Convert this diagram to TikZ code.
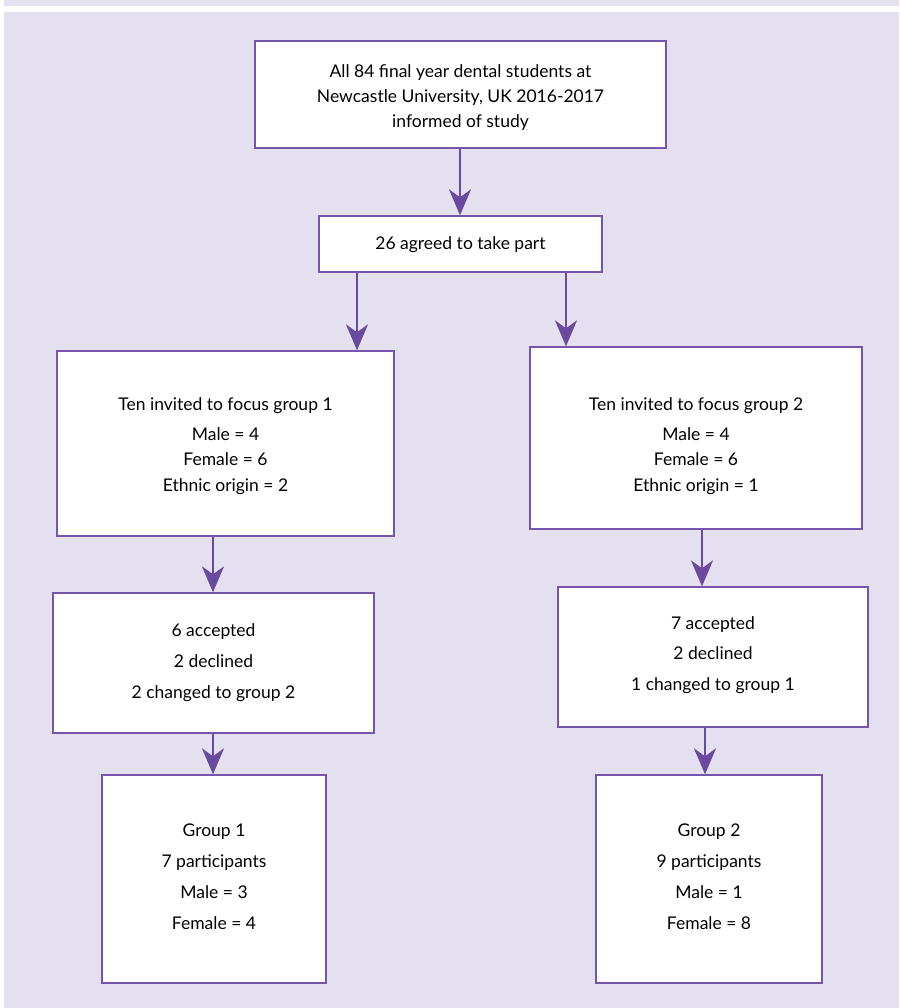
\documentclass[tikz,border=0pt]{standalone}
\usepackage{fontspec}
\setmainfont{Lato}
\usetikzlibrary{arrows.meta}
\definecolor{lav}{HTML}{E4E0F0}
\definecolor{pborder}{HTML}{7556AC}
\definecolor{parrow}{HTML}{6A4A9E}
\begin{document}
\begin{tikzpicture}[x=1pt,y=-1pt,
  box/.style={draw=pborder,fill=white,line width=1.3pt,rectangle,inner sep=0pt},
  txt/.style={inner sep=0pt,align=center,font=\fontsize{17.5}{25.5}\selectfont},
  arr/.style={draw=parrow,line width=2.8pt,-{Stealth[length=26pt,width=22pt,inset=8pt]}}]
\useasboundingbox (0,0) rectangle (899,1008);
\fill[white] (0,0) rectangle (899,1008);
\fill[lav] (4,0) rectangle (899,1008);
\fill[white] (4,6) rectangle (899,12);
\node[box,minimum width=411pt,minimum height=107pt] (top) at (460.5,94.5) {};
\node[txt,font=\fontsize{17.5}{25}\selectfont] (topt) at ([yshift=-3pt]top.center)
  {All 84 final year dental students at\\Newcastle University, UK 2016-2017\\informed of study};
\node[box,minimum width=283pt,minimum height=56pt] (agree) at (460.5,244) {};
\node[txt] (agreet) at ([yshift=-1pt]agree.center) {26 agreed to take part};
\node[box,minimum width=337pt,minimum height=185pt] (l1) at (225.5,443.5) {};
\node[txt] (l1t) at ([yshift=-2.5pt]l1.center)
  {Ten invited to focus group 1\\[4.5pt]Male = 4\\Female = 6\\Ethnic origin = 2};
\node[box,minimum width=332pt,minimum height=182pt] (r1) at (696,438) {};
\node[txt] (r1t) at ([yshift=-8pt]r1.center)
  {Ten invited to focus group 2\\[4.5pt]Male = 4\\Female = 6\\Ethnic origin = 1};
\node[box,minimum width=321pt,minimum height=140pt] (l2) at (213.5,663) {};
\node[txt] (l2t) at (l2.center)
  {6 accepted\\[5.5pt]2 declined\\[5.5pt]2 changed to group 2};
\node[box,minimum width=310pt,minimum height=140pt] (r2) at (713,657) {};
\node[txt] (r2t) at ([yshift=2pt]r2.center)
  {7 accepted\\[4.5pt]2 declined\\[6pt]1 changed to group 1};
\node[box,minimum width=224pt,minimum height=208pt] (l3) at (214,879) {};
\node[txt] (l3t) at ([yshift=2pt]l3.center)
  {Group 1\\[5.5pt]7 participants\\[5.5pt]Male = 3\\[5.5pt]Female = 4};
\node[box,minimum width=226pt,minimum height=208pt] (r3) at (709,879) {};
\node[txt] (r3t) at ([yshift=2pt]r3.center)
  {Group 2\\[5.5pt]9 participants\\[5.5pt]Male = 1\\[5.5pt]Female = 8};
\draw[arr] (top.south -| 460,0) -- (agree.north -| 460,0);
\draw[arr] (agree.south -| 357,0) -- (l1.north -| 357,0);
\draw[arr] (agree.south -| 566,0) -- (r1.north -| 566,0);
\draw[arr] (l1.south -| 213,0) -- (l2.north -| 213,0);
\draw[arr] (r1.south -| 702,0) -- (r2.north -| 702,0);
\draw[arr] (l2.south -| 213,0) -- (l3.north -| 213,0);
\draw[arr] (r2.south -| 705,0) -- (r3.north -| 705,0);
\end{tikzpicture}
\end{document}
